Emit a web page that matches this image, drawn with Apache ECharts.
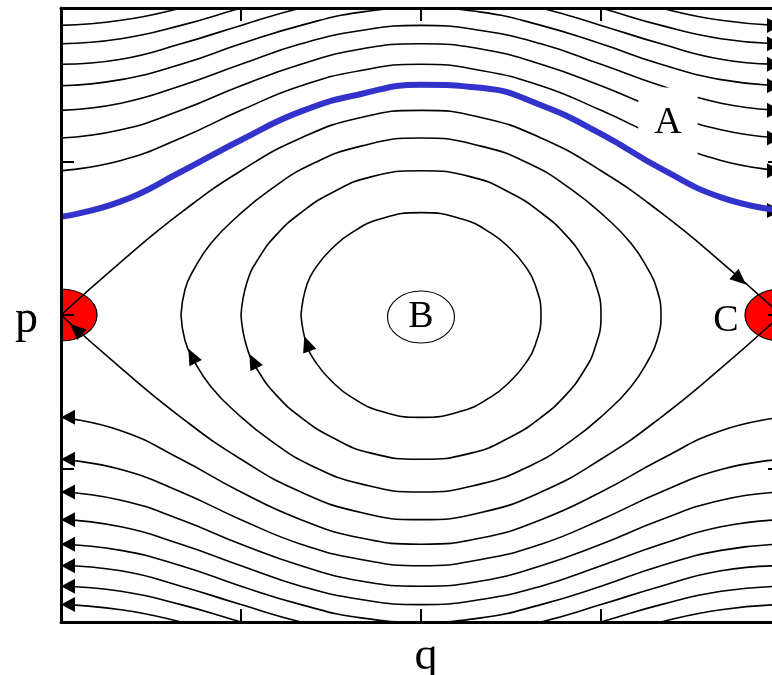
<!DOCTYPE html>
<html>
<head>
<meta charset="utf-8">
<script src="https://cdn.jsdelivr.net/npm/echarts@6/dist/echarts.min.js"></script>
<style>
html, body { margin: 0; padding: 0; background: #ffffff; }
#chart { width: 772px; height: 675px; }
</style>
</head>
<body>
<div id="chart"></div>
<script>
// Phase portrait of the pendulum: angle q (degrees) against momentum p.

// angle samples shared by the rotating trajectories
const qSamples = [-180, -150, -120, -90, -60, -30, 0, 30, 60, 90, 120, 150, 180];

// rotating trajectories above the separatrix (p > 0)
const upperCurves = [
  [1.41, 1.51, 1.73, 2.00, 2.24, 2.39, 2.45, 2.39, 2.24, 2.00, 1.73, 1.51, 1.41],
  [1.73, 1.81, 2.00, 2.24, 2.45, 2.60, 2.65, 2.60, 2.45, 2.24, 2.00, 1.81, 1.73],
  [2.00, 2.07, 2.24, 2.45, 2.65, 2.78, 2.83, 2.78, 2.65, 2.45, 2.24, 2.07, 2.00],
  [2.24, 2.30, 2.45, 2.65, 2.83, 2.96, 3.00, 2.96, 2.83, 2.65, 2.45, 2.30, 2.24],
  [2.45, 2.50, 2.65, 2.83, 3.00, 3.12, 3.16, 3.12, 3.00, 2.83, 2.65, 2.50, 2.45],
  [2.65, 2.70, 2.83, 3.00, 3.16, 3.28, 3.32, 3.28, 3.16, 3.00, 2.83, 2.70, 2.65],
  [2.83, 2.88, 3.00, 3.16, 3.32, 3.43, 3.46, 3.43, 3.32, 3.16, 3.00, 2.88, 2.83]
];

// highlighted trajectory A
const trajectoryA = [0.96, 1.11, 1.40, 1.71, 1.99, 2.16, 2.25, 2.22, 2.05, 1.77, 1.43, 1.15, 1.02];

// rotating trajectories below the separatrix (p < 0)
const lowerCurves = [
  [-1.00, -1.13, -1.41, -1.73, -2.00, -2.18, -2.24, -2.18, -2.00, -1.73, -1.41, -1.13, -1.00],
  [-1.41, -1.51, -1.73, -2.00, -2.24, -2.39, -2.45, -2.39, -2.24, -2.00, -1.73, -1.51, -1.41],
  [-1.73, -1.81, -2.00, -2.24, -2.45, -2.60, -2.65, -2.60, -2.45, -2.24, -2.00, -1.81, -1.73],
  [-2.00, -2.07, -2.24, -2.45, -2.65, -2.78, -2.83, -2.78, -2.65, -2.45, -2.24, -2.07, -2.00],
  [-2.24, -2.30, -2.45, -2.65, -2.83, -2.96, -3.00, -2.96, -2.83, -2.65, -2.45, -2.30, -2.24],
  [-2.45, -2.50, -2.65, -2.83, -3.00, -3.12, -3.16, -3.12, -3.00, -2.83, -2.65, -2.50, -2.45],
  [-2.65, -2.70, -2.83, -3.00, -3.16, -3.28, -3.32, -3.28, -3.16, -3.00, -2.83, -2.70, -2.65],
  [-2.83, -2.88, -3.00, -3.16, -3.32, -3.43, -3.46, -3.43, -3.32, -3.16, -3.00, -2.88, -2.83]
];

// separatrix branches joining the saddles
const separatrixUpper = [0, 0.52, 1.00, 1.41, 1.73, 1.93, 2.00, 1.93, 1.73, 1.41, 1.00, 0.52, 0];
const separatrixLower = [0, -0.52, -1.00, -1.41, -1.73, -1.93, -2.00, -1.93, -1.73, -1.41, -1.00, -0.52, 0];

// librating (closed) orbits around the centre B, as [q, p] points
const orbitInner = [[-60, 0], [-57, 0.30], [-52, 0.48], [-45, 0.64], [-35, 0.80], [-20, 0.94], [0, 1.00],
  [20, 0.94], [35, 0.80], [45, 0.64], [52, 0.48], [57, 0.30], [60, 0], [57, -0.30], [52, -0.48],
  [45, -0.64], [35, -0.80], [20, -0.94], [0, -1.00], [-20, -0.94], [-35, -0.80], [-45, -0.64],
  [-52, -0.48], [-57, -0.30], [-60, 0]];
const orbitMiddle = [[-90, 0], [-87, 0.32], [-81, 0.56], [-72, 0.79], [-60, 1.00], [-45, 1.19], [-25, 1.35],
  [0, 1.41], [25, 1.35], [45, 1.19], [60, 1.00], [72, 0.79], [81, 0.56], [87, 0.32], [90, 0],
  [87, -0.32], [81, -0.56], [72, -0.79], [60, -1.00], [45, -1.19], [25, -1.35], [0, -1.41],
  [-25, -1.35], [-45, -1.19], [-60, -1.00], [-72, -0.79], [-81, -0.56], [-87, -0.32], [-90, 0]];
const orbitOuter = [[-120, 0], [-118, 0.25], [-114, 0.43], [-105, 0.70], [-92, 0.96], [-75, 1.23], [-55, 1.47],
  [-30, 1.65], [0, 1.73], [30, 1.65], [55, 1.47], [75, 1.23], [92, 0.96], [105, 0.70], [114, 0.43],
  [118, 0.25], [120, 0], [118, -0.25], [114, -0.43], [105, -0.70], [92, -0.96], [75, -1.23],
  [55, -1.47], [30, -1.65], [0, -1.73], [-30, -1.65], [-55, -1.47], [-75, -1.23], [-92, -0.96],
  [-105, -0.70], [-114, -0.43], [-118, -0.25], [-120, 0]];

// unstable equilibria (saddles)
const saddlePoints = [[-180, 0], [180, 0]];

// arrow tips on the frame
const rightArrowP = [2.83, 2.65, 2.45, 2.24, 2.00, 1.73, 1.41, 1.02];
const leftArrowP = [-1.00, -1.41, -1.73, -2.00, -2.24, -2.45, -2.65, -2.83];
// arrows along the orbits and separatrix: [q, p]
const flowArrows = [[-114.5, -0.40], [-84, -0.45], [-57, -0.28], [159.5, 0.35], [-172.5, -0.14]];
const flowArrowRotation = [27, 27, 20, -131, 48];

// point labels
const labelA = [123.5, 1.88];
const labelB = [0, -0.02];
const labelC = [152.5, -0.06];

const serif = 'Liberation Serif';
const pairUp = (vals) => qSamples.map((q, i) => [q, vals[i]]);

function lineSeries(data, color, width, z) {
  return {
    type: 'line', data: data, smooth: true, showSymbol: false, symbol: 'none',
    silent: true, z: z, clip: true,
    lineStyle: { color: color, width: width, opacity: 1 }
  };
}

const series = [];

// saddles, drawn beneath the trajectories and clipped to the plot
series.push({
  type: 'custom', coordinateSystem: 'cartesian2d', clip: true, z: 1, silent: true,
  data: saddlePoints,
  renderItem: function (params, api) {
    const c = api.coord([api.value(0), api.value(1)]);
    return {
      type: 'circle', x: c[0], y: c[1], scaleX: 1, scaleY: 26 / 36,
      shape: { cx: 0, cy: 0, r: 36 },
      style: { fill: '#ff0000', stroke: '#000000', lineWidth: 1.2 }
    };
  }
});

upperCurves.forEach(v => series.push(lineSeries(pairUp(v), '#000000', 1.6, 2)));
lowerCurves.forEach(v => series.push(lineSeries(pairUp(v), '#000000', 1.6, 2)));
series.push(lineSeries(pairUp(separatrixUpper), '#000000', 1.6, 2));
series.push(lineSeries(pairUp(separatrixLower), '#000000', 1.6, 2));
[orbitInner, orbitMiddle, orbitOuter].forEach(o => series.push(lineSeries(o, '#000000', 1.6, 2)));

// arrows at the frame
series.push({
  type: 'scatter', z: 3, silent: true, symbol: 'triangle', symbolSize: [15, 14],
  symbolRotate: -90, symbolOffset: [-7, 0], itemStyle: { color: '#000000', opacity: 1 },
  data: rightArrowP.map(p => [180, p])
});
series.push({
  type: 'scatter', z: 3, silent: true, symbol: 'triangle', symbolSize: [15, 14],
  symbolRotate: 90, symbolOffset: [7, 0], itemStyle: { color: '#000000', opacity: 1 },
  data: leftArrowP.map(p => [-180, p])
});
series.push({
  type: 'scatter', z: 4, silent: true, symbol: 'triangle', symbolSize: [14, 16],
  itemStyle: { color: '#000000', opacity: 1 },
  data: flowArrows.map((a, i) => ({ value: a, symbolRotate: flowArrowRotation[i] }))
});

// labels
const labelFont = { color: '#000000', fontFamily: serif, fontSize: 38, textBorderWidth: 0, opacity: 1 };
series.push({
  type: 'scatter', z: 6, silent: true, symbol: 'circle', symbolSize: [67, 52],
  itemStyle: { color: '#ffffff', borderColor: '#000000', borderWidth: 1, opacity: 1 },
  data: [{ value: labelB, label: Object.assign({ show: true, position: 'inside', formatter: 'B' }, labelFont) }]
});
series.push({
  type: 'scatter', z: 7, silent: true, symbol: 'circle', symbolSize: 1,
  itemStyle: { color: 'rgba(0,0,0,0)', opacity: 1 },
  data: [
    { value: labelA, label: Object.assign({ show: true, position: 'inside', formatter: 'A',
      backgroundColor: '#ffffff', padding: [16, 16] }, labelFont) },
    { value: labelC, label: Object.assign({ show: true, position: 'inside', formatter: 'C' }, labelFont) }
  ]
});

// trajectory A on top of everything inside the plot
series.push(lineSeries(pairUp(trajectoryA), '#3333cc', 6, 8));

const axisLine = { show: true, onZero: false, lineStyle: { color: '#000000', width: 3 } };
const axisTick = { show: true, inside: true, length: 13, lineStyle: { color: '#000000', width: 2 } };

const chart = echarts.init(document.getElementById('chart'));
chart.setOption({
  animation: false,
  backgroundColor: '#ffffff',
  grid: { left: 61, right: -9, top: 8, bottom: 53, containLabel: false, outerBoundsMode: 'none' },
  xAxis: [
    { type: 'value', position: 'bottom', min: -180, max: 180, interval: 90, z: 10,
      axisLine: axisLine, axisTick: axisTick, axisLabel: { show: false }, splitLine: { show: false },
      name: 'q', nameLocation: 'middle', nameGap: 12,
      nameTextStyle: { color: '#000000', fontFamily: serif, fontSize: 46, padding: [0, 0, 0, 10] } },
    { type: 'value', position: 'top', min: -180, max: 180, interval: 90, z: 10,
      axisLine: axisLine, axisTick: axisTick, axisLabel: { show: false }, splitLine: { show: false } }
  ],
  yAxis: [
    { type: 'value', position: 'left', min: -3, max: 3, interval: 1.5, z: 10,
      axisLine: axisLine, axisTick: axisTick, axisLabel: { show: false }, splitLine: { show: false },
      name: 'p', nameLocation: 'middle', nameRotate: 0, nameGap: 23,
      nameTextStyle: { color: '#000000', fontFamily: serif, fontSize: 46,
        verticalAlign: 'top', lineHeight: 10 } },
    { type: 'value', position: 'right', min: -3, max: 3, interval: 1.5, z: 10,
      axisLine: axisLine, axisTick: axisTick, axisLabel: { show: false }, splitLine: { show: false } }
  ],
  series: series
});
</script>
</body>
</html>
